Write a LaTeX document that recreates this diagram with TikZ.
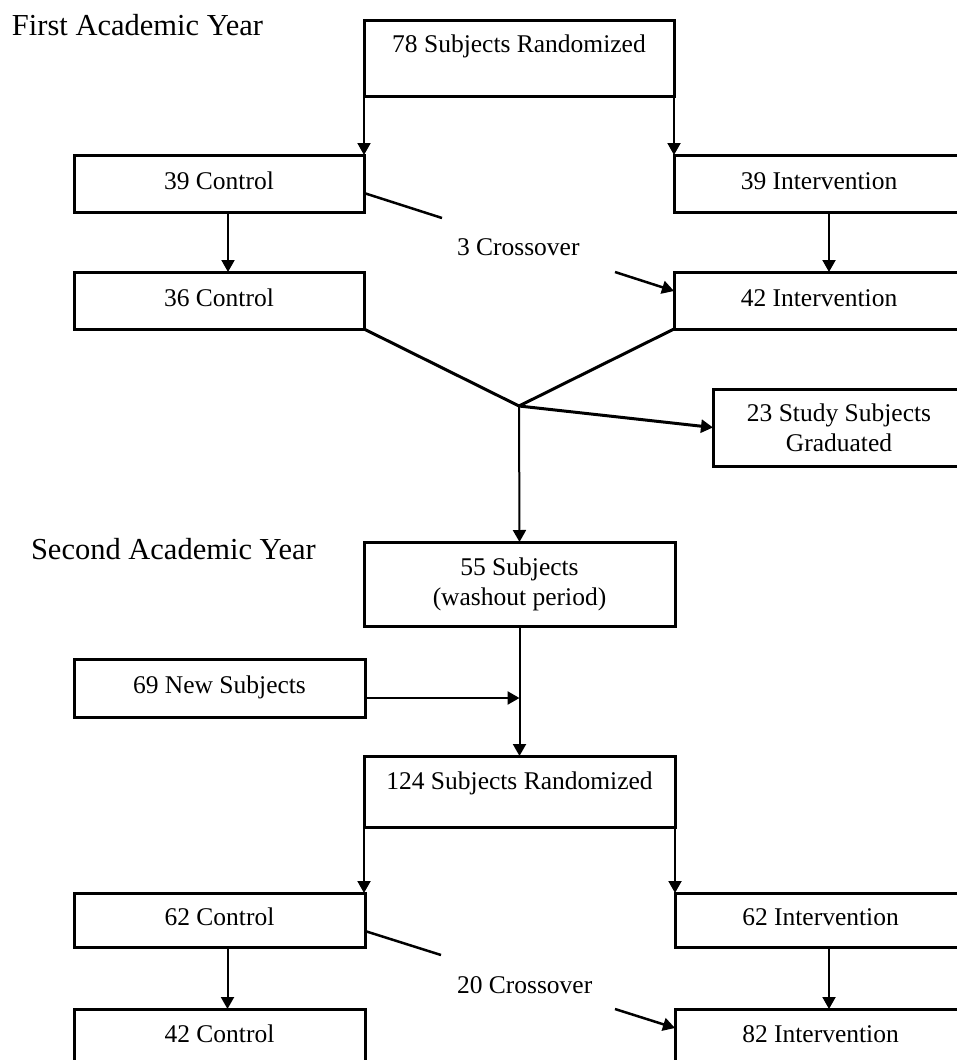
\documentclass[tikz,border=0pt]{standalone}
\usepackage{fontspec}
\setmainfont{Liberation Serif}
\usetikzlibrary{arrows.meta}
\newcommand\bxfont{\fontsize{25.5pt}{30pt}\selectfont}
\newcommand\hdfont{\fontsize{30.5pt}{36pt}\selectfont}
\begin{document}
\begin{tikzpicture}[x=1pt,y=-1pt,
  box/.style={draw, line width=3pt, inner sep=0pt, outer sep=0pt, font=\bxfont},
  one/.style={box, text height=17.85pt, text depth=6.4pt},
  two/.style={box, align=center},
  heading/.style={anchor=base west, font=\hdfont, inner sep=0pt, outer sep=0pt},
  cross/.style={anchor=base west, font=\bxfont, inner sep=0pt, outer sep=0pt},
  arr/.style={line width=2pt, -{Triangle[length=12pt,width=13pt]}},
  thickline/.style={line width=3pt, line join=miter},
  xline/.style={line width=2.5pt}]
\useasboundingbox (0,0) rectangle (957,1060);
\clip (0,0) rectangle (957,1060);

% headings
\node[heading] (h1) at (12,35) {First Academic Year};
\node[heading] (h2) at (31,559) {Second Academic Year};

% first year
\node[one, text depth=29pt, minimum width=310pt, minimum height=76pt] (r1) at (519,58) {78 Subjects Randomized};
\node[one, minimum width=290pt, minimum height=57pt] (c1) at (219,183.5) {39 Control};
\node[one, minimum width=290pt, minimum height=57pt] (i1) at (819,183.5) {39 Intervention};
\node[one, minimum width=290pt, minimum height=57pt] (c2) at (219,300.5) {36 Control};
\node[one, minimum width=290pt, minimum height=57pt] (i2) at (819,300.5) {42 Intervention};
\node[cross] (x1) at (457,255) {3 Crossover};
\node[two, minimum width=252pt, minimum height=77pt] (grad) at (839,427.5) {23 Study Subjects\\Graduated};

% second year
\node[two, minimum width=311pt, minimum height=84pt] (s55) at (519.5,584) {55 Subjects\\(washout period)};
\node[one, minimum width=291pt, minimum height=58pt] (n69) at (219.5,688) {69 New Subjects};
\node[one, text depth=22pt, minimum width=311pt, minimum height=71pt] (r2) at (519.5,791.5) {124 Subjects Randomized};
\node[one, minimum width=291pt, minimum height=54pt] (c3) at (219.5,920) {62 Control};
\node[one, minimum width=291pt, minimum height=54pt] (i3) at (820.5,920) {62 Intervention};
\node[one, minimum width=291pt, minimum height=56pt] (c4) at (219.5,1037) {42 Control};
\node[one, minimum width=291pt, minimum height=56pt] (i4) at (820.5,1037) {82 Intervention};
\node[cross] (x2) at (457,993) {20 Crossover};

% coordinates
\coordinate (j) at (519,406);
\coordinate (x1a) at (442,218);
\coordinate (x1b) at (615,272);
\coordinate (x2a) at (441,955);
\coordinate (x2b) at (615,1009);
\coordinate (n69o) at ([yshift=-10pt]n69.east);

% connectors, first year
\draw[arr] (r1.south west) -- (r1.south west |- c1.north);
\draw[arr] (r1.south east) -- (r1.south east |- i1.north);
\draw[arr] ([xshift=9pt]c1.south) -- ([xshift=9pt]c2.north);
\draw[arr] ([xshift=10pt]i1.south) -- ([xshift=10pt]i2.north);
\draw[xline] ([yshift=-9.5pt]c1.east) -- (x1a);
\draw[arr, line width=2.5pt] (x1b) -- ([yshift=9.5pt]i2.west);
\draw[thickline] (c2.south east) -- (j) -- (i2.south west);
\draw[arr, line width=3pt] (j) -- (grad.west);
\draw[arr] (j) -- (s55.north);

% connectors, second year
\draw[arr] (s55.south) -- (r2.north);
\draw[arr, line width=2.5pt] (n69o) -- (n69o -| s55.south);
\draw[arr] (r2.south west) -- (r2.south west |- c3.north);
\draw[arr] (r2.south east) -- (r2.south east |- i3.north);
\draw[arr] ([xshift=8pt]c3.south) -- ([xshift=8pt]c4.north);
\draw[arr] ([xshift=8.5pt]i3.south) -- ([xshift=8.5pt]i4.north);
\draw[xline] ([yshift=-11pt]c3.east) -- (x2a);
\draw[arr, line width=2.5pt] (x2b) -- ([yshift=9pt]i4.west);
\end{tikzpicture}
\end{document}
